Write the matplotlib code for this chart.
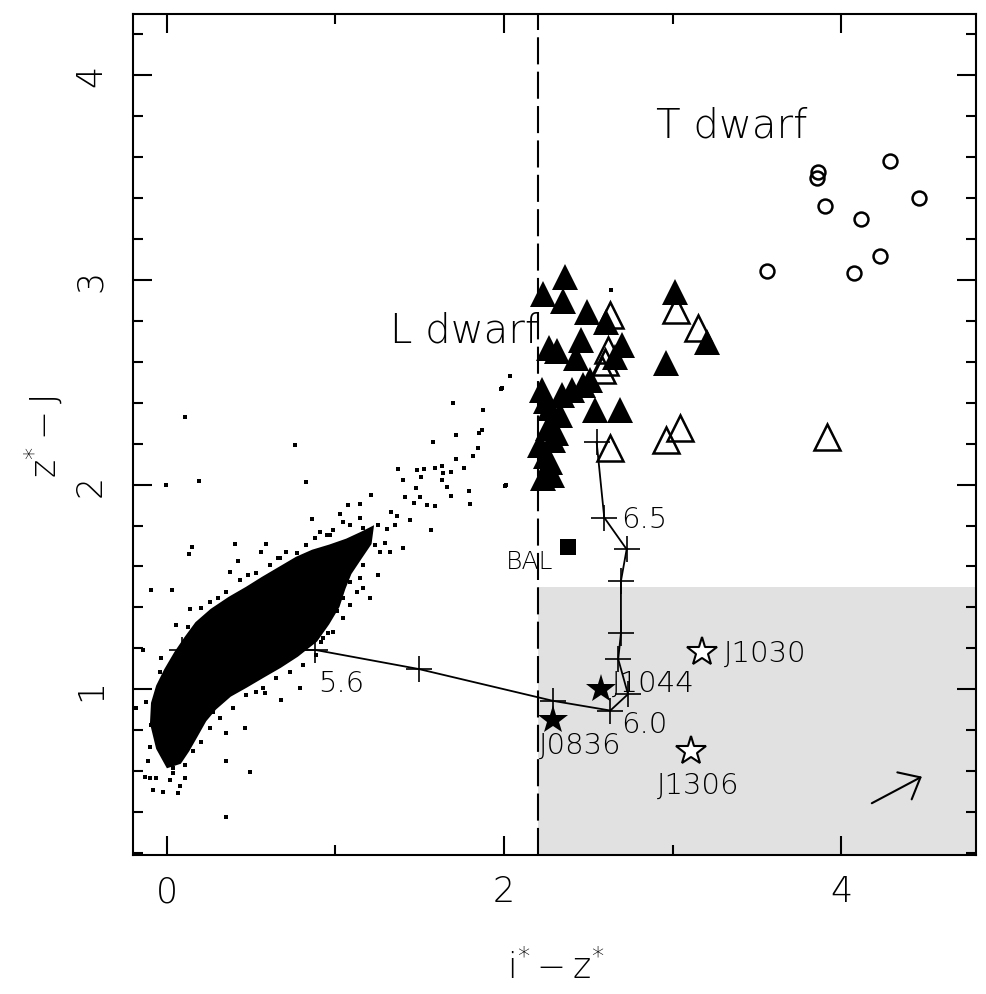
import numpy as np
import matplotlib
matplotlib.use('Agg')
import matplotlib.pyplot as plt

# T dwarfs (open circles)
tdw_x = [4.288, 3.860, 3.854, 3.905, 4.116, 4.461, 3.561, 4.077, 4.228]
tdw_y = [3.581, 3.527, 3.499, 3.360, 3.299, 3.399, 3.045, 3.032, 3.115]

# L dwarfs, filled triangles
ldw_x = [2.360, 2.233, 2.348, 2.490, 2.605, 2.457, 2.269, 2.317, 2.698, 2.430,
         2.659, 2.224, 2.342, 2.402, 2.471, 2.510, 2.273, 2.332, 2.540, 2.688,
         2.263, 2.293, 2.214, 2.273, 2.283, 2.233, 3.015, 3.203, 2.960, 2.250,
         2.310, 2.250]
ldw_y = [3.016, 2.934, 2.897, 2.842, 2.796, 2.706, 2.666, 2.653, 2.684, 2.617,
         2.625, 2.462, 2.438, 2.462, 2.487, 2.511, 2.373, 2.340, 2.364, 2.364,
         2.275, 2.218, 2.193, 2.112, 2.047, 2.031, 2.943, 2.698, 2.593, 2.410,
         2.250, 2.140]

# L dwarfs, open triangles
ldo_x = [2.629, 3.021, 3.153, 2.620, 2.600, 2.580, 2.629, 3.045, 2.960, 3.915]
ldo_y = [2.829, 2.853, 2.764, 2.660, 2.600, 2.560, 2.177, 2.278, 2.220, 2.235]

# quasars
qso_fill_x = [2.576, 2.293]
qso_fill_y = [1.002, 0.850]
qso_open_x = [3.177, 3.108]
qso_open_y = [1.184, 0.699]
bal_x, bal_y = [2.380], [1.694]

# model quasar track with redshift crosses
trk_x = [0.093, 0.882, 1.494, 2.293, 2.631, 2.736, 2.678, 2.694, 2.694, 2.728, 2.595, 2.550]
trk_y = [1.192, 1.192, 1.099, 0.943, 0.896, 0.976, 1.147, 1.274, 1.529, 1.684, 1.839, 2.207]

# dense stellar locus (outline)
locus_x = [0.006, -0.053, -0.089, -0.083, -0.053, -0.006, 0.053, 0.113, 0.178, 0.267,
           0.374, 0.475, 0.570, 0.671, 0.772, 0.866, 0.967, 1.068, 1.157, 1.217,
           1.205, 1.145, 1.086, 1.050, 1.015, 0.955, 0.884, 0.772, 0.671, 0.570,
           0.469, 0.374, 0.285, 0.226, 0.172, 0.125, 0.077]
locus_y = [0.624, 0.712, 0.834, 0.932, 1.015, 1.093, 1.176, 1.249, 1.322, 1.386,
           1.445, 1.493, 1.542, 1.591, 1.640, 1.674, 1.699, 1.728, 1.762, 1.787,
           1.713, 1.640, 1.567, 1.493, 1.405, 1.322, 1.239, 1.166, 1.112, 1.064,
           1.015, 0.971, 0.907, 0.849, 0.770, 0.702, 0.643]

# stars scattered round the locus edge
halo_x = [0.127, 0.146, 0.206, 0.255, 0.305, 0.354, 0.433, 0.483, 0.532, 0.611,
          0.661, 0.710, 0.770, 0.829, 0.878, 0.948, 0.987, 1.046, 1.086, 1.145,
          1.165, 1.205, 1.234, 1.264, 1.165, 1.145, 1.126, 1.086, 1.046, 0.987,
          0.928, 0.888, 0.809, 0.730, 0.651, 0.572, 0.473, 0.394, 0.315, 0.255,
          0.206, 0.156, 0.107, 0.037, -0.022, -0.061, -0.071, -0.042, -0.022, 0.018]
halo_y = [1.306, 1.265, 1.396, 1.428, 1.445, 1.477, 1.534, 1.559, 1.567, 1.607,
          1.640, 1.673, 1.664, 1.705, 1.738, 1.754, 1.778, 1.819, 1.803, 1.835,
          1.787, 1.754, 1.705, 1.673, 1.607, 1.542, 1.477, 1.412, 1.347, 1.282,
          1.249, 1.168, 1.119, 1.086, 1.054, 1.005, 0.972, 0.907, 0.858, 0.809,
          0.744, 0.696, 0.630, 0.614, 0.696, 0.761, 0.858, 0.956, 1.054, 1.119]

# isolated stars
star_x = [1.982, 1.699, 1.877, 0.107, 1.577, 1.715, 1.852, 1.871, 1.848, 1.818,
          1.713, 1.763, 0.760, 1.630, 1.685, 1.482, 1.527, 1.511, 1.590, 1.640,
          1.402, 1.374, 1.630, 1.660, 1.478, 1.794, -0.002, 0.192, 0.825, 2.004,
          1.412, 1.501, 1.466, 1.541, 1.590, 1.689, 1.800, 1.211, 1.145, 1.076,
          1.027, 0.862, 1.333, 1.363, 1.353, 1.442, 1.254, 1.309, 1.567, 1.402,
          1.294, 1.323, 1.254, 1.205, 0.147, 0.132, 0.404, 0.420, 0.586, 0.558,
          -0.091, 0.031, 0.137, 0.057, 0.374, 0.671, 0.908, 0.967, 1.086, 1.165,
          1.046, 1.007, 0.957, 0.918, 0.859, 0.789, 0.680, 0.582, 0.532, 0.463,
          0.493, 0.354, 0.354, 0.354, 0.275, -0.180, -0.120, -0.091, -0.101, -0.111,
          -0.101, -0.081, -0.022, 0.067, 0.077, 0.107, 0.018, 0.037, -0.061, -0.131,
          -0.031, -0.042, -0.141, 2.633, 2.036, 1.986, 2.012]
star_y = [2.466, 2.400, 2.365, 2.332, 2.207, 2.242, 2.254, 2.267, 2.177, 2.142,
          2.125, 2.080, 2.194, 2.093, 2.060, 2.071, 2.078, 2.037, 2.083, 2.055,
          2.023, 2.075, 2.023, 1.990, 1.982, 1.969, 1.998, 2.018, 2.011, 1.995,
          1.941, 1.941, 1.909, 1.900, 1.897, 1.946, 1.905, 1.949, 1.905, 1.899,
          1.855, 1.832, 1.868, 1.849, 1.803, 1.827, 1.803, 1.782, 1.778, 1.689,
          1.713, 1.673, 1.559, 1.445, 1.697, 1.660, 1.710, 1.627, 1.712, 1.671,
          1.485, 1.487, 1.392, 1.314, 1.575, 1.640, 1.770, 1.754, 1.526, 1.493,
          1.445, 1.380, 1.274, 1.233, 1.265, 1.005, 0.948, 0.980, 0.989, 0.809,
          0.598, 0.785, 0.647, 0.378, 0.891, 0.907, 0.940, 0.826, 0.720, 0.647,
          0.565, 0.508, 0.500, 0.492, 0.525, 0.565, 0.557, 0.590, 0.565, 0.573,
          1.151, 1.086, 1.192, 2.951, 2.530, 2.470, 1.998]

# reddening vector
red_tail = (4.182, 0.443)
red_head = (4.479, 0.573)

# selection cuts
iz_cut = 2.2
zj_cut = 1.5

xlim = (-0.2, 4.8)
ylim = (0.19, 4.3)
xtick_vals = [0, 2, 4]
xtick_labels = ['0', '2', '4']
ytick_vals = [1, 2, 3, 4]
ytick_labels = ['1', '2', '3', '4']

plt.rcParams['font.family'] = ['DejaVu Sans']
plt.rcParams['font.weight'] = 'light'
plt.rcParams['mathtext.default'] = 'regular'

fig = plt.figure(figsize=(9.87, 9.95), dpi=100)
ax = fig.add_axes([133 / 987, 1 - 856 / 995, 843 / 987, 841 / 995])

ax.fill_between([iz_cut, xlim[1]], ylim[0], zj_cut, color='#e1e1e1', lw=0, zorder=0)
ax.axvline(iz_cut, color='k', lw=1.5, ls=(0, (13, 3.5)), zorder=1)

ax.fill(locus_x, locus_y, facecolor='k', edgecolor='k', lw=2.5, zorder=2)
ax.plot(halo_x, halo_y, 's', color='k', ms=2.4, mew=0, zorder=2)
ax.plot(star_x, star_y, 's', color='k', ms=2.2, mew=0, zorder=2)

ax.plot(trk_x, trk_y, '-', color='k', lw=1.3, zorder=3)
ax.plot(trk_x, trk_y, '+', color='k', ms=19, mew=1.2, zorder=3)

ax.plot(tdw_x, tdw_y, 'o', mfc='none', mec='k', ms=10, mew=1.8, zorder=4)
ax.plot(ldo_x, ldo_y, '^', mfc='none', mec='k', ms=18.5, mew=1.8, zorder=4)
ax.plot(ldw_x, ldw_y, '^', color='k', ms=18.5, mew=0, zorder=5)
ax.plot(qso_open_x, qso_open_y, '*', mfc='white', mec='k', ms=22, mew=1.5, zorder=5)
ax.plot(qso_fill_x, qso_fill_y, '*', color='k', ms=22, mew=0, zorder=5)
ax.plot(bal_x, bal_y, 's', color='k', ms=11, mew=0, zorder=5)

ax.annotate('', xy=red_head, xytext=red_tail,
            arrowprops=dict(arrowstyle='->,head_length=1.3,head_width=1.1',
                            lw=1.5, color='k', shrinkA=0, shrinkB=0, mutation_scale=10))

tfs = 21
ax.text(3.351, 3.70, 'T dwarf', fontsize=29, ha='center', va='baseline')
ax.text(1.769, 2.70, 'L dwarf', fontsize=29, ha='center', va='baseline')
ax.text(3.55, 1.137, 'J1030', fontsize=tfs, ha='center', va='baseline')
ax.text(2.884, 0.99, 'J1044', fontsize=tfs, ha='center', va='baseline')
ax.text(2.451, 0.687, 'J0836', fontsize=tfs, ha='center', va='baseline')
ax.text(3.154, 0.492, 'J1306', fontsize=tfs, ha='center', va='baseline')
ax.text(2.15, 1.591, 'BAL', fontsize=18, ha='center', va='baseline')
ax.text(2.834, 1.791, '6.5', fontsize=tfs, ha='center', va='baseline')
ax.text(2.834, 0.79, '6.0', fontsize=tfs, ha='center', va='baseline')
ax.text(1.033, 0.99, '5.6', fontsize=tfs, ha='center', va='baseline')

ax.set_xlim(*xlim)
ax.set_ylim(*ylim)
ax.set_xticks(xtick_vals)
ax.set_xticklabels(xtick_labels)
ax.set_xticks([1, 3], minor=True)
ax.set_yticks(ytick_vals)
ax.set_yticklabels(ytick_labels, rotation=90, va='center')
ax.set_yticks(np.arange(0.2, 4.31, 0.2), minor=True)
ax.tick_params(which='both', direction='in', top=True, right=True, width=1.5, labelsize=25)
ax.tick_params(which='major', length=14)
ax.tick_params(which='minor', length=7)
ax.tick_params(axis='x', pad=14)
ax.tick_params(axis='y', pad=18)
for sp in ax.spines.values():
    sp.set_linewidth(1.5)

fig.text(43 / 987, 1 - 437 / 995, r'$z^{*}-J$', rotation=90,
         fontsize=25, ha='center', va='center')
fig.text(556 / 987, 1 - 968 / 995, r'$i^{*}-z^{*}$',
         fontsize=25, ha='center', va='center')

fig.savefig('out.png', dpi=100)
